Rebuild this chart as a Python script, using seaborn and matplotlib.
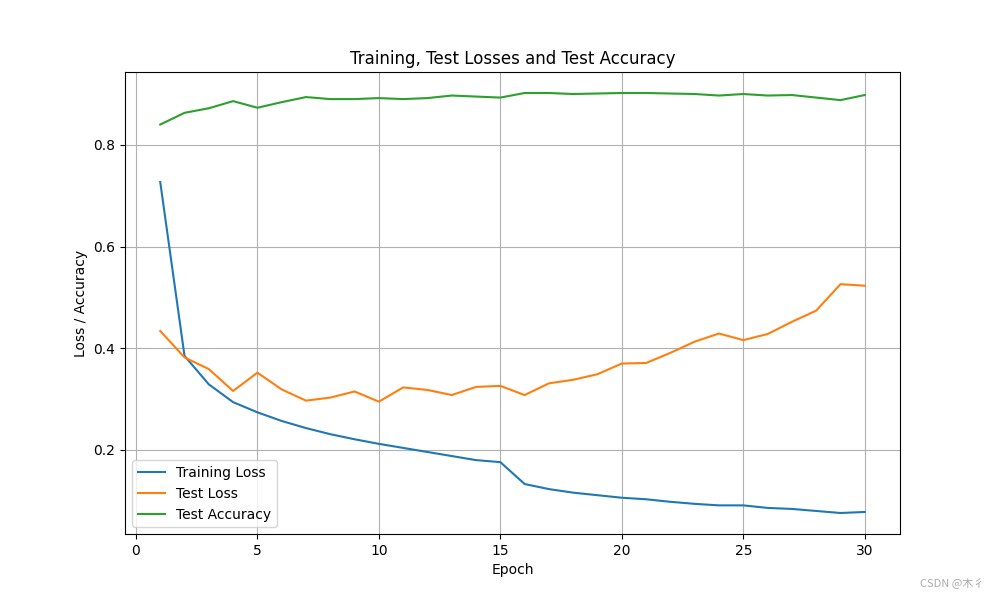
import matplotlib
matplotlib.use('Agg')
import matplotlib.pyplot as plt
import seaborn as sns
import numpy as np
import pandas as pd

# 数据
epochs = list(range(1, 31))
train_loss = [0.727, 0.385, 0.329, 0.294, 0.274, 0.257, 0.243, 0.231, 0.221, 0.212,
              0.204, 0.196, 0.188, 0.180, 0.176, 0.133, 0.123, 0.116, 0.111, 0.106,
              0.103, 0.098, 0.094, 0.091, 0.091, 0.086, 0.084, 0.080, 0.076, 0.078]
test_loss = [0.434, 0.382, 0.359, 0.316, 0.352, 0.319, 0.297, 0.303, 0.315, 0.295,
             0.323, 0.318, 0.308, 0.324, 0.326, 0.308, 0.331, 0.338, 0.349, 0.370,
             0.371, 0.391, 0.413, 0.429, 0.416, 0.428, 0.452, 0.474, 0.526, 0.523]
test_acc = [0.840, 0.863, 0.872, 0.886, 0.873, 0.884, 0.894, 0.890, 0.890, 0.892,
            0.890, 0.892, 0.897, 0.895, 0.893, 0.902, 0.902, 0.900, 0.901, 0.902,
            0.902, 0.901, 0.900, 0.897, 0.900, 0.897, 0.898, 0.893, 0.888, 0.898]

df = pd.DataFrame({'Epoch': epochs, 'Training Loss': train_loss,
                   'Test Loss': test_loss, 'Test Accuracy': test_acc})

fig, ax = plt.subplots(figsize=(10, 6), dpi=100)
sns.lineplot(x='Epoch', y='Training Loss', data=df, label='Training Loss', ax=ax)
sns.lineplot(x='Epoch', y='Test Loss', data=df, label='Test Loss', ax=ax)
sns.lineplot(x='Epoch', y='Test Accuracy', data=df, label='Test Accuracy', ax=ax)

ax.set_title('Training, Test Losses and Test Accuracy')
ax.set_xlabel('Epoch')
ax.set_ylabel('Loss / Accuracy')
ax.legend(loc='lower left')
ax.grid(True)

# 水印
fig.text(0.985, 0.02, 'CSDN @木彳', ha='right', va='bottom', fontsize=8,
         color='#aaaaaa', family=['Noto Sans CJK SC', 'DejaVu Sans'])

plt.savefig('out.png')
